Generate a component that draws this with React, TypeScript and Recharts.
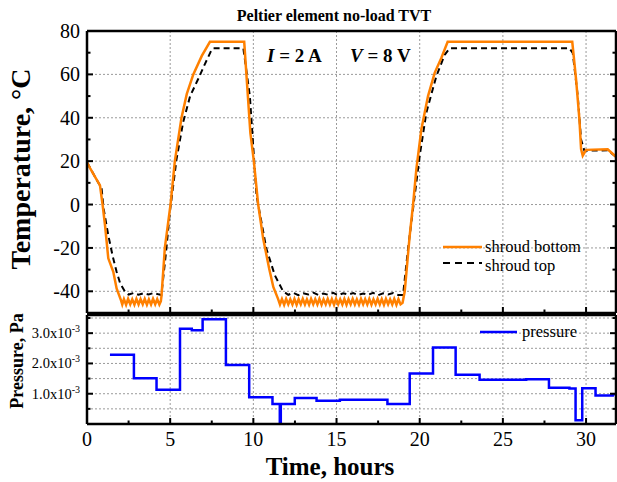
import React from "react";
import { LineChart, Line, XAxis, YAxis, CartesianGrid, Legend } from "recharts";

const SERIF = '"Liberation Serif", "Times New Roman", serif';
const ORANGE = "#ff8000";
const BLUE = "#0000ff";
const GRID = "#9a9a9a";

// axis ticks and grid values
const hourTicks = [0, 2.5, 5, 7.5, 10, 12.5, 15, 17.5, 20, 22.5, 25, 27.5, 30];
const hourGrid = [5, 10, 15, 20, 25, 30];
const tempTicks = [-50, -40, -30, -20, -10, 0, 10, 20, 30, 40, 50, 60, 70, 80];
const tempGrid = [-40, -20, 0, 20, 40, 60];
const pressTicks = [0, 0.0005, 0.001, 0.0015, 0.002, 0.0025, 0.003, 0.0035];
const pressGrid = [0.0005, 0.001, 0.0015, 0.002, 0.0025, 0.003, 0.0035];

// shroud bottom temperature [hours, degC]
const shroudBottom: [number, number][] = [
  [0, 19.5], [0.2, 16.5], [0.5, 12.5], [0.78, 8.8], [0.94, -0.2], [1.08, -9.4], [1.28, -24.8],
  [1.58, -31], [1.78, -38.7], [2.05, -44.3],
  [2.12, -46.1], [2.22, -43.6], [2.35, -46.2], [2.47, -43.5], [2.6, -46.0], [2.72, -43.7],
  [2.85, -46.2], [2.97, -43.5], [3.1, -46.1], [3.22, -43.6], [3.35, -46.0], [3.47, -43.5],
  [3.6, -46.2], [3.72, -43.7], [3.85, -46.1], [3.97, -43.5], [4.1, -46.0], [4.22, -43.6],
  [4.35, -46.1], [4.44, -44.5],
  [4.48, -42], [4.68, -20], [5.02, 0], [5.28, 20], [5.68, 40], [6.0, 51], [6.39, 60],
  [6.9, 68.5], [7.39, 75], [9.45, 75], [9.82, 33], [10.03, 20], [10.29, 0], [10.59, -15.7],
  [10.95, -29.5], [11.2, -38], [11.49, -43.6],
  [11.6, -46.1], [11.72, -43.6], [11.85, -46.2], [11.97, -43.5], [12.1, -46.0], [12.22, -43.7],
  [12.35, -46.1], [12.47, -43.5], [12.6, -46.2], [12.72, -43.6], [12.85, -46.0], [12.97, -43.5],
  [13.1, -46.1], [13.22, -43.7], [13.35, -46.2], [13.47, -43.5], [13.6, -46.0], [13.72, -43.6],
  [13.85, -46.1], [13.97, -43.5], [14.1, -46.2], [14.22, -43.7], [14.35, -46.0], [14.47, -43.5],
  [14.6, -46.1], [14.72, -43.6], [14.85, -46.2], [14.97, -43.5], [15.1, -46.0], [15.22, -43.7],
  [15.35, -46.1], [15.47, -43.5], [15.6, -46.2], [15.72, -43.6], [15.85, -46.0], [15.97, -43.5],
  [16.1, -46.1], [16.22, -43.7], [16.35, -46.2], [16.47, -43.5], [16.6, -46.0], [16.72, -43.6],
  [16.85, -46.1], [16.97, -43.5], [17.1, -46.2], [17.22, -43.7], [17.35, -46.0], [17.47, -43.5],
  [17.6, -46.1], [17.72, -43.6], [17.85, -46.2], [17.97, -43.5], [18.1, -46.0], [18.22, -43.7],
  [18.35, -46.1], [18.47, -43.5], [18.6, -46.2], [18.72, -43.6], [18.85, -46.0], [18.97, -45.3],
  [19.1, -40], [19.4, -14.2], [19.6, 0], [19.8, 16.4], [20.1, 34.7], [20.5, 50], [20.9, 60.7],
  [21.3, 67.6], [21.68, 75], [29.17, 75], [29.4, 57.7], [29.6, 39.3], [29.7, 25.6], [29.8, 22.5],
  [30.0, 25.2], [31.3, 25.5], [31.8, 22],
];

// shroud top temperature [hours, degC]
const shroudTop: [number, number][] = [
  [0, 19.5], [0.5, 12.5], [0.78, 8.8], [0.88, 7.2], [1.0, -2], [1.28, -14.2], [1.55, -24],
  [1.78, -31], [2.0, -36.5], [2.28, -40.1], [2.5, -41.5], [2.8, -40.8], [3.1, -41.6],
  [3.4, -40.9], [3.7, -41.5], [4.0, -40.8], [4.3, -41.4], [4.47, -41.7], [4.75, -22],
  [4.98, -3.5], [5.38, 20.8], [5.78, 38], [6.2, 50], [6.69, 58], [7.1, 65], [7.49, 71.3],
  [7.6, 72], [9.4, 72], [9.79, 50], [10.19, 4.2], [10.78, -20.3], [11.29, -32.6], [11.79, -40],
  [12.1, -41.6], [12.4, -40.7], [12.7, -41.8], [13.0, -40.9], [13.3, -41.5], [13.6, -40.6],
  [13.9, -41.7], [14.2, -41.0], [14.5, -41.6], [14.8, -40.7], [15.1, -41.8], [15.4, -40.9],
  [15.7, -41.5], [16.0, -40.8], [16.3, -41.7], [16.6, -41.0], [16.9, -41.6], [17.2, -40.7],
  [17.5, -41.8], [17.8, -40.9], [18.1, -41.5], [18.4, -40.8], [18.7, -41.7], [19.0, -41.7],
  [19.3, -20.3], [19.65, 1.1], [20.0, 22.5], [20.4, 42.4], [21.0, 59.2], [21.5, 69], [21.8, 72],
  [29.0, 72], [29.2, 69.9], [29.5, 50], [29.7, 30], [29.9, 24.8], [31.3, 25], [31.8, 22],
];

// chamber pressure [hours, Pa], drawn as steps
const pressure: [number, number][] = [
  [1.38, 0.00229], [2.82, 0.00151], [4.18, 0.00113], [5.59, 0.00315], [6.3, 0.0031],
  [6.95, 0.00346], [8.35, 0.00195], [9.75, 0.00088], [11.15, 0.00066], [11.59, 0],
  [11.65, 0.00066], [12.49, 0.00086], [13.8, 0.00077], [15.2, 0.0008], [18.06, 0.00066],
  [19.4, 0.00167], [20.8, 0.00253], [22.16, 0.00163], [23.6, 0.00146], [26.4, 0.00148],
  [27.77, 0.0012], [29.0, 0.00117], [29.37, 0.00012], [29.77, 0.00118], [30.57, 0.00094],
  [31.6, 0.00098], [31.8, 0.00098],
];

const rows = (pts: [number, number][]) => pts.map(([t, v]) => ({ t, v }));

const isMajorHour = (v: number) => v % 5 === 0;

function HourTick(props: any) {
  const { x, y, payload, side, showLabel } = props;
  const v = payload.value;
  const len = isMajorHour(v) ? 6 : 3.5;
  const y2 = side === "bottom" ? y - len : y + len;
  return (
    <g>
      <line x1={x} x2={x} y1={y} y2={y2} stroke="#000" strokeWidth={2} />
      {showLabel && isMajorHour(v) ? (
        <text x={x} y={y + 22} textAnchor="middle" fontFamily={SERIF} fontSize={20} fill="#000">
          {v}
        </text>
      ) : null}
    </g>
  );
}

function TempTick(props: any) {
  const { x, y, payload, side } = props;
  const v = payload.value;
  const major = v % 20 === 0;
  const len = major ? 6 : 3.5;
  const x2 = side === "left" ? x + len : x - len;
  return (
    <g>
      <line x1={x} x2={x2} y1={y} y2={y} stroke="#000" strokeWidth={2} />
      {side === "left" && major ? (
        <text x={x - 7} y={y + 7} textAnchor="end" fontFamily={SERIF} fontSize={20} fill="#000">
          {String(v)}
        </text>
      ) : null}
    </g>
  );
}

function PressTick(props: any) {
  const { x, y, payload, side } = props;
  const k = payload.value * 1000;
  const major = k > 0 && Math.abs(k - Math.round(k)) < 1e-6;
  const len = major ? 6 : 3.5;
  const x2 = side === "left" ? x + len : x - len;
  return (
    <g>
      <line x1={x} x2={x2} y1={y} y2={y} stroke="#000" strokeWidth={2} />
      {side === "left" && major ? (
        <text x={x - 7} y={y + 5} textAnchor="end" fontFamily={SERIF} fontSize={14.5} fill="#000">
          {k.toFixed(1) + "x10"}
          <tspan dy={-6} fontSize={10}>-3</tspan>
        </text>
      ) : null}
    </g>
  );
}

const axisLine = { stroke: "#000", strokeWidth: 2.5 };

function TempLegend() {
  return (
    <svg width={170} height={40} style={{ display: "block", overflow: "visible" }}>
      <line x1={0} x2={39} y1={9} y2={9} stroke={ORANGE} strokeWidth={2.5} />
      <text x={42} y={14} fontFamily={SERIF} fontSize={16.5} fill="#000">shroud bottom</text>
      <line x1={0} x2={39} y1={25} y2={25} stroke="#000" strokeWidth={2} strokeDasharray="7 5" />
      <text x={42} y={33} fontFamily={SERIF} fontSize={16.5} fill="#000">shroud top</text>
    </svg>
  );
}

function PressLegend() {
  return (
    <svg width={130} height={22} style={{ display: "block", overflow: "visible" }}>
      <line x1={0} x2={37} y1={8} y2={8} stroke={BLUE} strokeWidth={2.5} />
      <text x={42} y={13} fontFamily={SERIF} fontSize={16.5} fill="#000">pressure</text>
    </svg>
  );
}

export default function App() {
  return (
    <div style={{ position: "absolute", left: 0, top: 0, width: 617, height: 482, background: "#fff" }}>
      <div style={{ position: "absolute", left: 0, top: 0 }}>
        <LineChart width={617} height={316} margin={{ top: 30, right: 0, bottom: 2, left: 27 }}>
          <CartesianGrid
            xAxisId="b"
            yAxisId="l"
            stroke={GRID}
            strokeDasharray="2 2"
            verticalValues={hourGrid}
            horizontalValues={tempGrid}
          />
          <XAxis
            xAxisId="b"
            dataKey="t"
            type="number"
            domain={[0, 31.8]}
            allowDataOverflow
            ticks={hourTicks}
            interval={0}
            height={1}
            tickSize={0}
            tickMargin={0}
            tickLine={false}
            axisLine={axisLine}
            tick={(p: any) => <HourTick {...p} side="bottom" showLabel={false} />}
          />
          <XAxis
            xAxisId="t"
            orientation="top"
            type="number"
            domain={[0, 31.8]}
            allowDataOverflow
            ticks={hourTicks}
            interval={0}
            height={1}
            tickSize={0}
            tickMargin={0}
            tickLine={false}
            axisLine={axisLine}
            tick={(p: any) => <HourTick {...p} side="top" showLabel={false} />}
          />
          <YAxis
            yAxisId="l"
            type="number"
            domain={[-50, 80]}
            allowDataOverflow
            ticks={tempTicks}
            interval={0}
            width={60}
            tickSize={0}
            tickMargin={0}
            tickLine={false}
            axisLine={axisLine}
            tick={(p: any) => <TempTick {...p} side="left" />}
          />
          <YAxis
            yAxisId="r"
            orientation="right"
            type="number"
            domain={[-50, 80]}
            allowDataOverflow
            ticks={tempTicks}
            interval={0}
            width={1}
            tickSize={0}
            tickMargin={0}
            tickLine={false}
            axisLine={axisLine}
            tick={(p: any) => <TempTick {...p} side="right" />}
          />
          <Line
            xAxisId="b"
            yAxisId="l"
            data={rows(shroudTop)}
            dataKey="v"
            name="shroud top"
            type="linear"
            stroke="#000"
            strokeWidth={2}
            strokeDasharray="6 4"
            dot={false}
            isAnimationActive={false}
          />
          <Line
            xAxisId="b"
            yAxisId="l"
            data={rows(shroudBottom)}
            dataKey="v"
            name="shroud bottom"
            type="linear"
            stroke={ORANGE}
            strokeWidth={2.5}
            dot={false}
            isAnimationActive={false}
          />
          <Legend
            layout="vertical"
            align="center"
            verticalAlign="middle"
            wrapperStyle={{ left: 443, top: 238, width: 170 }}
            content={() => <TempLegend />}
          />
        </LineChart>
      </div>
      <div style={{ position: "absolute", left: 0, top: 300 }}>
        <LineChart width={617} height={182} margin={{ top: 14, right: 0, bottom: 57, left: 27 }}>
          <CartesianGrid
            xAxisId="b"
            yAxisId="l"
            stroke={GRID}
            strokeDasharray="2 2"
            verticalValues={hourGrid}
            horizontalValues={pressGrid}
          />
          <XAxis
            xAxisId="b"
            dataKey="t"
            type="number"
            domain={[0, 31.8]}
            allowDataOverflow
            ticks={hourTicks}
            interval={0}
            height={1}
            tickSize={0}
            tickMargin={0}
            tickLine={false}
            axisLine={axisLine}
            tick={(p: any) => <HourTick {...p} side="bottom" showLabel />}
          />
          <XAxis
            xAxisId="t"
            orientation="top"
            type="number"
            domain={[0, 31.8]}
            allowDataOverflow
            ticks={hourTicks}
            interval={0}
            height={1}
            tickSize={0}
            tickMargin={0}
            tickLine={false}
            axisLine={axisLine}
            tick={(p: any) => <HourTick {...p} side="top" showLabel={false} />}
          />
          <YAxis
            yAxisId="l"
            type="number"
            domain={[0, 0.0036]}
            allowDataOverflow
            ticks={pressTicks}
            interval={0}
            width={60}
            tickSize={0}
            tickMargin={0}
            tickLine={false}
            axisLine={axisLine}
            tick={(p: any) => <PressTick {...p} side="left" />}
          />
          <YAxis
            yAxisId="r"
            orientation="right"
            type="number"
            domain={[0, 0.0036]}
            allowDataOverflow
            ticks={pressTicks}
            interval={0}
            width={1}
            tickSize={0}
            tickMargin={0}
            tickLine={false}
            axisLine={axisLine}
            tick={(p: any) => <PressTick {...p} side="right" />}
          />
          <Line
            xAxisId="b"
            yAxisId="l"
            data={rows(pressure)}
            dataKey="v"
            name="pressure"
            type="stepAfter"
            stroke={BLUE}
            strokeWidth={2.5}
            dot={false}
            isAnimationActive={false}
          />
          <Legend
            layout="vertical"
            align="center"
            verticalAlign="middle"
            wrapperStyle={{ left: 480, top: 24, width: 130 }}
            content={() => <PressLegend />}
          />
        </LineChart>
      </div>
      <svg
        width={617}
        height={482}
        style={{ position: "absolute", left: 0, top: 0, pointerEvents: "none" }}
      >
        <text x={334} y={21} textAnchor="middle" fontFamily={SERIF} fontSize={16} fontWeight="bold">
          Peltier element no-load TVT
        </text>
        <text x={267} y={62} fontFamily={SERIF} fontSize={19} fontWeight="bold">
          <tspan fontStyle="italic">I</tspan> = 2 A
        </text>
        <text x={350} y={62} fontFamily={SERIF} fontSize={19} fontWeight="bold">
          <tspan fontStyle="italic">V</tspan> = 8 V
        </text>
        <text
          x={30}
          y={169}
          transform="rotate(-90 30 169)"
          textAnchor="middle"
          fontFamily={SERIF}
          fontSize={28}
          fontWeight="bold"
        >
          Temperature, °C
        </text>
        <text
          x={23}
          y={361}
          transform="rotate(-90 23 361)"
          textAnchor="middle"
          fontFamily={SERIF}
          fontSize={18}
          fontWeight="bold"
        >
          Pressure, Pa
        </text>
        <text x={330} y={475} textAnchor="middle" fontFamily={SERIF} fontSize={25} fontWeight="bold">
          Time, hours
        </text>
      </svg>
    </div>
  );
}
